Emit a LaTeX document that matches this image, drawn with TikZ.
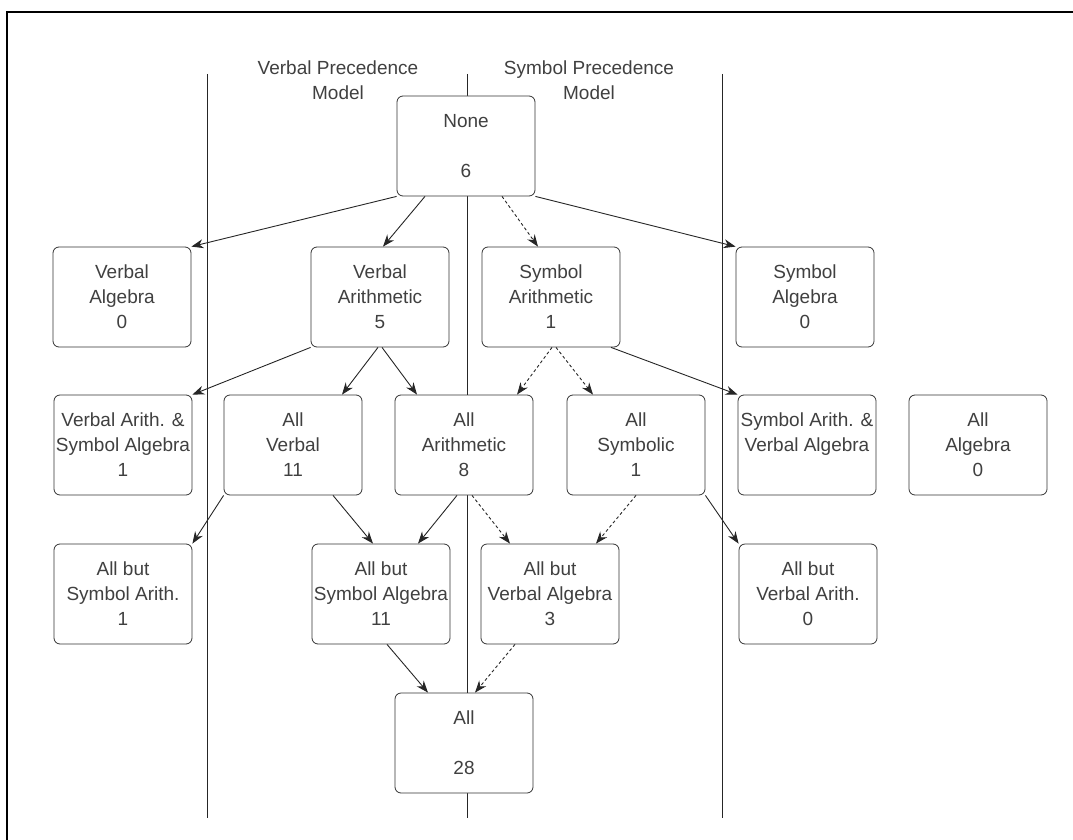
\documentclass[tikz,border=0pt]{standalone}
\usepackage{fontspec}
\setmainfont{Liberation Sans}
\usetikzlibrary{arrows.meta}

\begin{document}
\begin{tikzpicture}
[x=1pt,y=-1pt,
 box/.style={shape=rectangle,draw=black!80,thick,rounded corners=6pt,fill=white,
   minimum width=138pt,minimum height=100pt,inner sep=0pt,align=center,
   text=black!75,font=\fontsize{19}{25}\selectfont},
 heading/.style={align=center,text=black!75,font=\fontsize{19}{25}\selectfont},
 edge/.style={draw=black!85,line width=0.9pt,-{Stealth[length=12pt,width=9pt]}},
 symedge/.style={edge,dash pattern=on 3pt off 2.5pt},
 divider/.style={draw=black!85,line width=1pt}]

\useasboundingbox (0,0) rectangle (1073,840);
\draw [line width=1.6pt] (7,840) -- (7,12) -- (1073,12);

\draw [divider] (207,74) -- (207,818);
\draw [divider] (467,74) -- (467,818);
\draw [divider] (722,74) -- (722,818);

\node (vhead) [heading] at (338,80) {Verbal Precedence\\Model};
\node (shead) [heading] at (589,80) {Symbol Precedence\\Model};

\draw (466,146) node (none) [box] {None\\\mbox{}\\6};

\draw (122,297) node (valg) [box] {Verbal\\Algebra\\0};
\draw (380,297) node (varith) [box] {Verbal\\Arithmetic\\5};
\draw (551,297) node (sarith) [box] {Symbol\\Arithmetic\\1};
\draw (805,297) node (salg) [box] {Symbol\\Algebra\\0};

\draw (123,445) node (vasa) [box] {Verbal Arith. \&\\Symbol Algebra\\1};
\draw (293,445) node (allverb) [box] {All\\Verbal\\11};
\draw (464,445) node (allarith) [box] {All\\Arithmetic\\8};
\draw (636,445) node (allsym) [box] {All\\Symbolic\\1};
\draw (807,445) node (sava) [box] {Symbol Arith. \&\\Verbal Algebra\\\mbox{}};
\draw (978,445) node (allalg) [box] {All\\Algebra\\0};

\draw (123,594) node (absar) [box] {All but\\Symbol Arith.\\1};
\draw (381,594) node (absalg) [box] {All but\\Symbol Algebra\\11};
\draw (550,594) node (abvalg) [box] {All but\\Verbal Algebra\\3};
\draw (808,594) node (abvar) [box] {All but\\Verbal Arith.\\0};

\draw (464,743) node (all) [box] {All\\\mbox{}\\28};

% first level
\draw [edge] (none.south west) -- (valg.north east);
\draw [edge] ([xshift=-41]none.south) -- ([xshift=3]varith.north);
\draw [symedge] ([xshift=36]none.south) -- ([xshift=-13]sarith.north);
\draw [edge] (none.south east) -- (salg.north west);

% second level
\draw [edge] (varith.south west) -- (vasa.north east);
\draw [edge] ([xshift=-2]varith.south) -- ([xshift=49]allverb.north);
\draw [edge] ([xshift=2]varith.south) -- ([xshift=-47]allarith.north);
\draw [symedge] ([xshift=1]sarith.south) -- ([xshift=53]allarith.north);
\draw [symedge] ([xshift=5]sarith.south) -- ([xshift=-43]allsym.north);
\draw [edge] ([xshift=60]sarith.south) -- (sava.north west);

% third level
\draw [edge] (allverb.south west) -- (absar.north east);
\draw [edge] ([xshift=40]allverb.south) -- ([xshift=-8]absalg.north);
\draw [edge] ([xshift=-7]allarith.south) -- ([xshift=37]absalg.north);
\draw [symedge] ([xshift=8]allarith.south) -- ([xshift=-40]abvalg.north);
\draw [symedge] (allsym.south) -- ([xshift=46]abvalg.north);
\draw [edge] (allsym.south east) -- (abvar.north west);

% bottom
\draw [edge] ([xshift=6]absalg.south) -- ([xshift=-36]all.north);
\draw [symedge] ([xshift=-35]abvalg.south) -- ([xshift=11]all.north);
\end{tikzpicture}
\end{document}
